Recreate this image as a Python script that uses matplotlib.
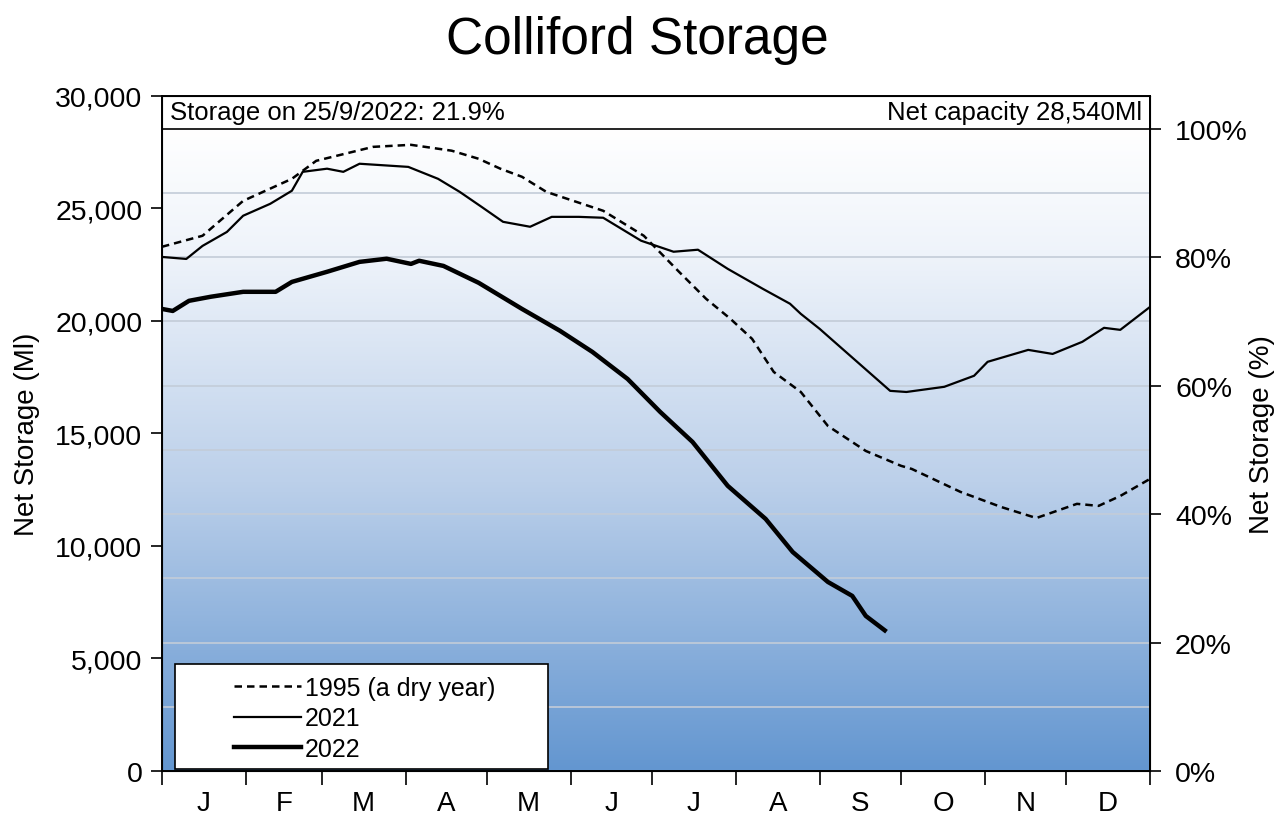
import numpy as np
import matplotlib
matplotlib.use("Agg")
import matplotlib.pyplot as plt
from matplotlib.colors import LinearSegmentedColormap
from matplotlib.patches import Rectangle

plt.rcParams['font.family'] = ['Liberation Sans', 'DejaVu Sans']

capacity = 28540

# day of year / storage (Ml)
days_1995 = [0, 15, 30, 48, 57, 78, 92, 107, 117, 125, 133, 142, 163, 178, 191, 201,
             210, 218, 226, 236, 246, 260, 273, 277, 295, 310, 323, 338, 346, 354, 365]
vals_1995 = [23290, 23780, 25330, 26310, 27110, 27730, 27820, 27560, 27200, 26760, 26400,
             25730, 24890, 23780, 22180, 20980, 20090, 19200, 17730, 16840, 15330, 14220,
             13560, 13420, 12400, 11730, 11240, 11870, 11780, 12220, 12980]

days_2021 = [0, 9, 15, 24, 30, 40, 48, 52, 61, 67, 73, 91, 102, 110, 118, 126, 136, 144,
             154, 163, 177, 189, 198, 209, 222, 232, 236, 243, 248, 269, 275, 289, 300,
             305, 320, 329, 340, 348, 354, 365]
vals_2021 = [22840, 22750, 23330, 23950, 24670, 25200, 25780, 26620, 26760, 26620, 26980,
             26840, 26310, 25730, 25070, 24400, 24180, 24620, 24620, 24580, 23560, 23070,
             23160, 22310, 21420, 20760, 20310, 19640, 19110, 16890, 16840, 17070, 17560,
             18180, 18710, 18530, 19070, 19690, 19600, 20620]

days_2022 = [0, 4, 10, 18, 30, 42, 48, 61, 73, 83, 92, 95, 104, 117, 133, 147, 159, 172,
             184, 196, 209, 223, 233, 246, 255, 260, 267]
vals_2022 = [20530, 20440, 20890, 21070, 21290, 21290, 21730, 22180, 22620, 22760, 22530,
             22670, 22440, 21690, 20530, 19560, 18620, 17420, 15960, 14620, 12670, 11200,
             9730, 8400, 7780, 6890, 6250]

month_starts = [0, 31, 59, 90, 120, 151, 181, 212, 243, 273, 304, 334, 365]
month_labels = ['J', 'F', 'M', 'A', 'M', 'J', 'J', 'A', 'S', 'O', 'N', 'D']

fig = plt.figure(figsize=(12.75, 8.2), dpi=100)
ax = fig.add_axes([0.127, 0.0585, 0.775, 0.8235])

# background gradient
cmap = LinearSegmentedColormap.from_list('bg', [(0, '#6396d0'), (0.45, '#bcd0ea'), (0.8, '#eef3fa'), (1, '#ffffff')])
grad = np.linspace(0, 1, 256).reshape(-1, 1)
ax.imshow(grad, extent=[0, 365, 0, capacity], origin='lower', aspect='auto', cmap=cmap, zorder=0)

for k in range(1, 10):
    ax.axhline(capacity * k / 10, color='#c3ccd8', lw=1.2, zorder=1)

ax.add_patch(Rectangle((0, capacity), 365, 30000 - capacity, facecolor='white',
                       edgecolor='black', lw=1.2, zorder=2))
ax.text(3, 29270, 'Storage on 25/9/2022: 21.9%', fontsize=18.5, va='center', ha='left', zorder=3)
ax.text(362, 29270, 'Net capacity 28,540Ml', fontsize=18.5, va='center', ha='right', zorder=3)

l1, = ax.plot(days_1995, vals_1995, color='black', lw=1.8, dashes=(3, 2), zorder=4)
l2, = ax.plot(days_2021, vals_2021, color='black', lw=1.6, zorder=4)
l3, = ax.plot(days_2022, vals_2022, color='black', lw=3.2, zorder=5)

ax.set_xlim(0, 365)
ax.set_ylim(0, 30000)
ax.set_xticks(month_starts)
ax.set_xticklabels([])
ax.set_xticks([(a + b) / 2 for a, b in zip(month_starts[:-1], month_starts[1:])], minor=True)
ax.set_xticklabels(month_labels, minor=True, fontsize=20)
ax.tick_params(axis='x', which='major', direction='out', length=10, width=1.2)
ax.tick_params(axis='x', which='minor', length=0, pad=14)
ax.set_yticks(range(0, 30001, 5000))
ax.set_yticklabels(['{:,}'.format(v) for v in range(0, 30001, 5000)], fontsize=20.5)
ax.tick_params(axis='y', direction='out', length=8, width=1.2, pad=6)
ax.set_ylabel('Net Storage (Ml)', fontsize=20)
ax.yaxis.set_label_coords(-0.123, 0.5)
for s in ax.spines.values():
    s.set_linewidth(1.4)

ax2 = ax.twinx()
ax2.set_ylim(0, 30000 / capacity * 100)
ax2.set_yticks(range(0, 101, 20))
ax2.set_yticklabels(['{}%'.format(v) for v in range(0, 101, 20)], fontsize=20.5)
ax2.tick_params(axis='y', direction='out', length=8, width=1.2, pad=10)
ax2.set_ylabel('Net Storage (%)', fontsize=20, va='center')
ax2.yaxis.set_label_coords(1.113, 0.5)

ax.add_patch(Rectangle((0.013, 0.003), 0.378, 0.156, transform=ax.transAxes,
                       facecolor='white', edgecolor='black', lw=1.2, zorder=6))
leg = ax.legend([l1, l2, l3], ['1995 (a dry year)', '2021', '2022'], loc='lower left',
                bbox_to_anchor=(0.05, -0.018), frameon=False, fontsize=18,
                handlelength=2.7, handletextpad=0.15, labelspacing=0.25)
leg.set_zorder(7)

fig.text(0.5, 0.951, 'Colliford Storage', fontsize=37, ha='center', va='center')

plt.savefig('out.png')
